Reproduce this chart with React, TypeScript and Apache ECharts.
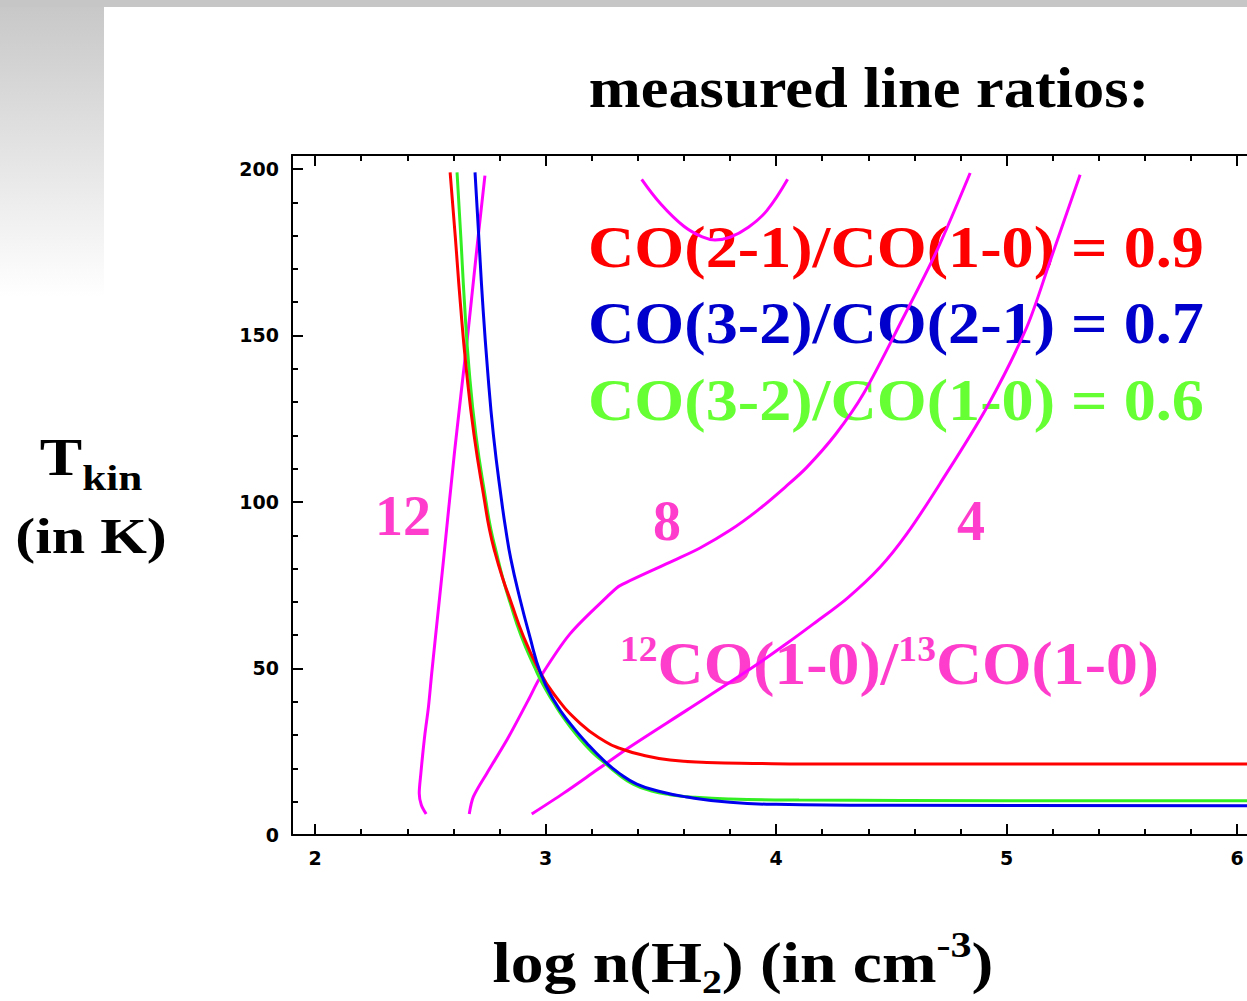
import React, { useEffect, useRef } from "react";
import * as echarts from "echarts";

// ---- axis ticks ----
const xMajorTicks = [2, 3, 4, 5, 6];
const xMinorTicks = [2.2, 2.4, 2.6, 2.8, 3.2, 3.4, 3.6, 3.8, 4.2, 4.4, 4.6, 4.8, 5.2, 5.4, 5.6, 5.8];
const yMajorTicks = [0, 50, 100, 150, 200];
const yMinorTicks = [10, 20, 30, 40, 60, 70, 80, 90, 110, 120, 130, 140, 160, 170, 180, 190];

// ---- texts ----
const titleText = "measured line ratios:";
const ratioTexts = ["CO(2-1)/CO(1-0) = 0.9", "CO(3-2)/CO(2-1) = 0.7", "CO(3-2)/CO(1-0) = 0.6"];
const contourLabels = ["12", "8", "4"];

// ---- curves: [log n(H2), Tkin] ----
const ratio12: [number, number][] = [
  [2.482, 6.3], [2.461, 9], [2.452, 12.5], [2.459, 18.5], [2.466, 23.5], [2.477, 30.5],
  [2.492, 38.5], [2.506, 48.5], [2.521, 58.5], [2.557, 82.4], [2.605, 115],
  [2.662, 150], [2.678, 160.4], [2.705, 178], [2.737, 198],
];
const ratio8: [number, number][] = [
  [2.669, 6.3], [2.687, 11.5], [2.745, 18.5], [2.832, 28.5], [2.925, 40.5], [2.978, 47.5],
  [3.106, 60.4], [3.28, 72.4], [3.323, 74.9], [3.555, 82.4], [3.67, 86.2], [3.8, 91.5],
  [3.92, 97.5], [4.04, 104.5], [4.133, 110.4], [4.26, 120.5], [4.379, 132.5],
  [4.552, 155.4], [4.697, 175.4], [4.842, 198.8],
];
const ratio4: [number, number][] = [
  [2.94, 6.3], [3.077, 12.5], [3.222, 19.5], [3.367, 26.5], [3.613, 37.5], [3.902, 50.5],
  [4.046, 57.5], [4.162, 63.4], [4.307, 71], [4.451, 80.4], [4.567, 90.4],
  [4.711, 105.5], [4.914, 128.4], [5.087, 152.4], [5.189, 172.4], [5.319, 198.3],
];
const ratioArc: [number, number][] = [
  [3.417, 196.9], [3.5, 189.5], [3.6, 182.8], [3.68, 179.6], [3.735, 178.7], [3.8, 179.5],
  [3.88, 182.5], [3.96, 187.5], [4.05, 196.9],
];
const co21_10: [number, number][] = [
  [2.586, 199], [2.608, 180], [2.63, 160], [2.656, 140], [2.69, 120], [2.736, 100],
  [2.756, 92], [2.78, 85], [2.812, 77.5], [2.85, 70], [2.902, 60], [2.968, 50],
  [3.034, 42.5], [3.15, 33.5], [3.26, 28], [3.323, 26], [3.42, 24], [3.54, 22.5],
  [3.7, 21.8], [3.9, 21.5], [4.3, 21.3], [5.0, 21.3], [6.043, 21.3],
];
const co32_21: [number, number][] = [
  [2.694, 199], [2.71, 180], [2.727, 160], [2.748, 140], [2.774, 120], [2.81, 100],
  [2.829, 91], [2.849, 83], [2.885, 72], [2.93, 60], [2.979, 48.5], [3.04, 40],
  [3.106, 33.5], [3.18, 27.5], [3.251, 22.5], [3.32, 18.5], [3.396, 15.3], [3.5, 13],
  [3.613, 11.4], [3.8, 9.8], [4.0, 9.2], [4.5, 8.9], [6.043, 8.8],
];
const co32_10: [number, number][] = [
  [2.616, 199], [2.632, 180], [2.648, 160], [2.668, 140], [2.698, 120], [2.742, 100],
  [2.762, 92], [2.786, 85], [2.813, 77.5], [2.845, 70], [2.893, 60], [2.955, 50],
  [2.99, 45], [3.033, 40], [3.08, 35], [3.135, 30], [3.2, 25], [3.251, 22], [3.31, 18.5],
  [3.38, 15.3], [3.46, 13.2], [3.54, 12.1], [3.65, 11.3], [3.8, 10.8], [4.1, 10.5],
  [5.0, 10.3], [6.043, 10.3],
];

const X_MIN = 1.9;
const X_MAX = 6.043;
const Y_MIN = 0;
const Y_MAX = 204.2;

const SERIF = "'Liberation Serif', 'Times New Roman', serif";
const TICKFONT = "'DejaVu Sans', sans-serif";

function tok(size: number, extra: any = {}) {
  return { fontFamily: SERIF, fontWeight: "bold", fontSize: size, ...extra };
}

function txt(x: number, y: number, text: string, size: number, fill: string, align: string, scaleX: number, rich?: any) {
  return {
    type: "text",
    x,
    y,
    scaleX,
    silent: true,
    style: {
      text,
      fill,
      fontFamily: SERIF,
      fontWeight: "bold",
      fontSize: size,
      align,
      textAlign: align,
      verticalAlign: "middle",
      textVerticalAlign: "middle",
      rich,
    },
  };
}

export default function App() {
  const ref = useRef<HTMLDivElement>(null);
  useEffect(() => {
    document.body.style.margin = "0";
    const chart = echarts.init(ref.current!, null, { renderer: "svg" });

    const line = (name: string, data: [number, number][], color: string, width: number, smooth: number) => ({
      type: "line",
      name,
      data,
      symbol: "none",
      showSymbol: false,
      smooth,
      silent: true,
      z: 3,
      lineStyle: { color, width },
      itemStyle: { color },
    });

    const axisLineStyle = { color: "#000", width: 2 };
    const xBase = { type: "value", min: X_MIN, max: X_MAX, splitLine: { show: false } };
    const yBase = { type: "value", min: Y_MIN, max: Y_MAX, splitLine: { show: false } };
    const tickLabel = {
      color: "#000",
      fontFamily: TICKFONT,
      fontWeight: "bold",
      fontSize: 19,
      margin: 13,
    };

    const pink = "#ff3dcc";

    chart.setOption({
      animation: false,
      backgroundColor: "#ffffff",
      grid: { left: 292, top: 155, width: 955, height: 680, outerBoundsMode: "none" },
      xAxis: [
        {
          ...xBase,
          position: "bottom",
          axisLine: { show: true, onZero: false, lineStyle: axisLineStyle },
          axisTick: { show: true, inside: true, length: 11, lineStyle: axisLineStyle, customValues: xMajorTicks },
          axisLabel: { show: true, customValues: xMajorTicks, ...tickLabel },
        },
        {
          ...xBase,
          position: "bottom",
          axisLine: { show: false, onZero: false },
          axisTick: { show: true, inside: true, length: 6, lineStyle: axisLineStyle, customValues: xMinorTicks },
          axisLabel: { show: false },
        },
        {
          ...xBase,
          position: "top",
          axisLine: { show: true, onZero: false, lineStyle: axisLineStyle },
          axisTick: { show: true, inside: true, length: 11, lineStyle: axisLineStyle, customValues: xMajorTicks },
          axisLabel: { show: false },
        },
        {
          ...xBase,
          position: "top",
          axisLine: { show: false, onZero: false },
          axisTick: { show: true, inside: true, length: 6, lineStyle: axisLineStyle, customValues: xMinorTicks },
          axisLabel: { show: false },
        },
      ],
      yAxis: [
        {
          ...yBase,
          position: "left",
          axisLine: { show: true, onZero: false, lineStyle: axisLineStyle },
          axisTick: { show: true, inside: true, length: 11, lineStyle: axisLineStyle, customValues: yMajorTicks },
          axisLabel: { show: true, customValues: yMajorTicks, ...tickLabel },
        },
        {
          ...yBase,
          position: "left",
          axisLine: { show: false, onZero: false },
          axisTick: { show: true, inside: true, length: 6, lineStyle: axisLineStyle, customValues: yMinorTicks },
          axisLabel: { show: false },
        },
      ],
      graphic: [
        { type: "rect", silent: true, shape: { x: 0, y: 0, width: 1247, height: 7 }, style: { fill: "#c6c6c6" } },
        {
          type: "rect",
          silent: true,
          shape: { x: 0, y: 7, width: 104, height: 290 },
          style: {
            fill: new echarts.graphic.LinearGradient(0, 0, 0, 1, [
              { offset: 0, color: "#c8c8c8" },
              { offset: 1, color: "#ffffff" },
            ]),
          },
        },
        txt(869, 88, titleText, 56, "#000", "center", 1.115),
        txt(588, 247, ratioTexts[0], 60, "#ff0000", "left", 1.07),
        txt(588, 323, ratioTexts[1], 60, "#0000cc", "left", 1.07),
        txt(588, 400, ratioTexts[2], 60, "#66ff33", "left", 1.07),
        txt(403, 516, contourLabels[0], 56, pink, "center", 1),
        txt(667, 521, contourLabels[1], 56, pink, "center", 1),
        txt(971, 521, contourLabels[2], 56, pink, "center", 1),
        txt(620, 663, "{s|12}{m|CO(1-0)/}{s|13}{m|CO(1-0)}", 61, pink, "left", 1.045, {
          m: tok(61, { lineHeight: 64 }),
          s: tok(36, { lineHeight: 39, verticalAlign: "top" }),
        }),
        txt(91, 457, "{m|T}{b|kin}", 53, "#000", "center", 1.2, {
          m: tok(53, { lineHeight: 78 }),
          b: tok(36, { lineHeight: 36, verticalAlign: "bottom" }),
        }),
        txt(91, 536, "(in K)", 50, "#000", "center", 1.2),
        txt(743, 963, "{m|log n(H}{b|2}{m|) (in cm}{p|-3}{m|)}", 56, "#000", "center", 1.17, {
          m: tok(56, { lineHeight: 72 }),
          b: tok(34, { lineHeight: 34, verticalAlign: "bottom" }),
          p: tok(36, { lineHeight: 36, verticalAlign: "top" }),
        }),
      ],
      series: [
        line("ratio 12", ratio12, "#ff00ff", 3, 0.3),
        line("ratio 8", ratio8, "#ff00ff", 3, 0.3),
        line("ratio 4", ratio4, "#ff00ff", 3, 0.3),
        line("ratio arc", ratioArc, "#ff00ff", 3, 0.4),
        line("CO(3-2)/CO(1-0)", co32_10, "#33ee22", 3, 0.5),
        line("CO(2-1)/CO(1-0)", co21_10, "#ff0000", 3, 0.5),
        line("CO(3-2)/CO(2-1)", co32_21, "#0000ee", 3, 0.5),
      ],
    });

    return () => chart.dispose();
  }, []);
  return <div ref={ref} style={{ width: 1247, height: 1001 }} />;
}
